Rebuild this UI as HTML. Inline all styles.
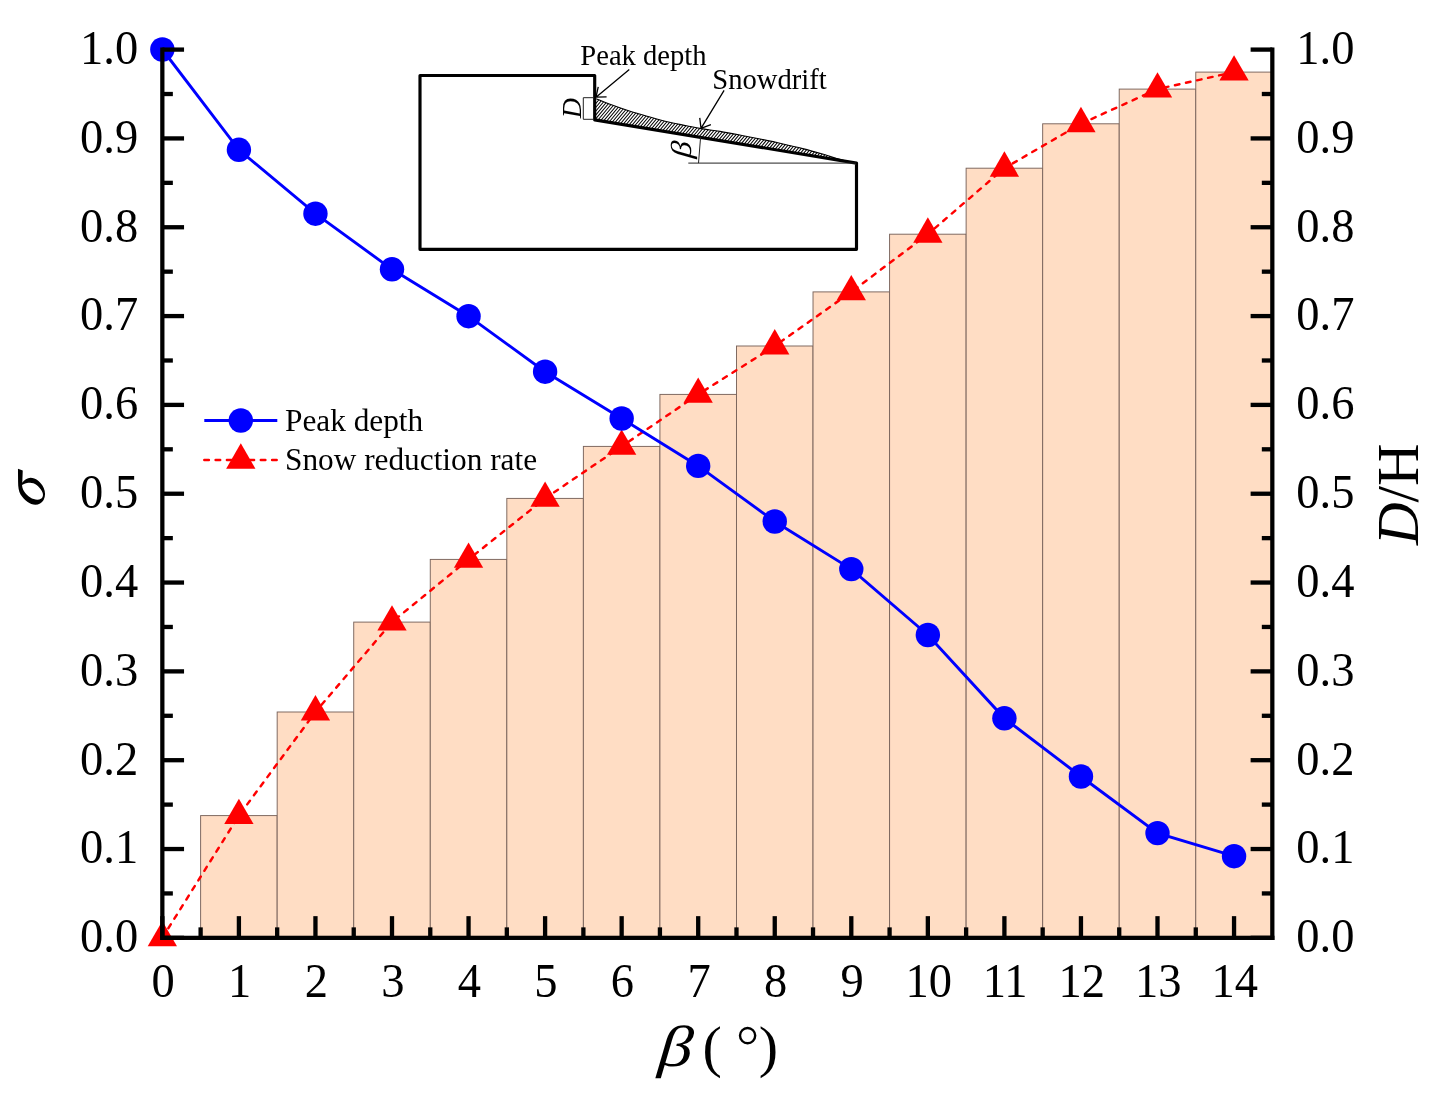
<!DOCTYPE html>
<html><head><meta charset="utf-8"><title>chart</title>
<style>html,body{margin:0;padding:0;background:#fff;}svg{display:block;will-change:transform;}text{font-family:"Liberation Serif",serif;fill:#000;}.it{font-style:italic;}</style></head><body>
<svg width="1451" height="1108" viewBox="0 0 1451 1108">
<rect x="0" y="0" width="1451" height="1108" fill="#fff"/>
<g fill="#FFDDC4" stroke="#7a645c" stroke-width="0.95">
<rect x="200.62" y="815.60" width="76.55" height="122.25"/>
<rect x="277.17" y="712.00" width="76.55" height="225.85"/>
<rect x="353.73" y="622.10" width="76.55" height="315.75"/>
<rect x="430.27" y="559.40" width="76.55" height="378.45"/>
<rect x="506.82" y="498.40" width="76.55" height="439.45"/>
<rect x="583.38" y="446.40" width="76.55" height="491.45"/>
<rect x="659.92" y="394.40" width="76.55" height="543.45"/>
<rect x="736.48" y="346.00" width="76.55" height="591.85"/>
<rect x="813.02" y="291.90" width="76.55" height="645.95"/>
<rect x="889.58" y="234.20" width="76.55" height="703.65"/>
<rect x="966.12" y="168.20" width="76.55" height="769.65"/>
<rect x="1042.67" y="123.80" width="76.55" height="814.05"/>
<rect x="1119.22" y="89.10" width="76.55" height="848.75"/>
<rect x="1195.77" y="72.10" width="76.55" height="865.75"/>
</g>
<path d="M162.35,937.85 L238.90,815.60 L315.45,712.00 L392.00,622.10 L468.55,559.40 L545.10,498.40 L621.65,446.40 L698.20,394.40 L774.75,346.00 L851.30,291.90 L927.85,234.20 L1004.40,168.20 L1080.95,123.80 L1157.50,89.10 L1234.05,72.10" fill="none" stroke="#FF0000" stroke-width="2.45" stroke-dasharray="4.6 6.7" stroke-linecap="round"/>
<g fill="#FF0000">
<polygon points="162.35,920.92 177.00,946.32 147.70,946.32"/>
<polygon points="238.90,798.67 253.55,824.07 224.25,824.07"/>
<polygon points="315.45,695.07 330.10,720.47 300.80,720.47"/>
<polygon points="392.00,605.17 406.65,630.57 377.35,630.57"/>
<polygon points="468.55,542.47 483.20,567.87 453.90,567.87"/>
<polygon points="545.10,481.47 559.75,506.87 530.45,506.87"/>
<polygon points="621.65,429.47 636.30,454.87 607.00,454.87"/>
<polygon points="698.20,377.47 712.85,402.87 683.55,402.87"/>
<polygon points="774.75,329.07 789.40,354.47 760.10,354.47"/>
<polygon points="851.30,274.97 865.95,300.37 836.65,300.37"/>
<polygon points="927.85,217.27 942.50,242.67 913.20,242.67"/>
<polygon points="1004.40,151.27 1019.05,176.67 989.75,176.67"/>
<polygon points="1080.95,106.87 1095.60,132.27 1066.30,132.27"/>
<polygon points="1157.50,72.17 1172.15,97.57 1142.85,97.57"/>
<polygon points="1234.05,55.17 1248.70,80.57 1219.40,80.57"/>
</g>
<path d="M162.35,49.50 L238.90,149.80 L315.45,213.70 L392.00,269.30 L468.55,316.20 L545.10,371.70 L621.65,418.50 L698.20,465.90 L774.75,521.50 L851.30,569.10 L927.85,635.00 L1004.40,718.30 L1080.95,776.50 L1157.50,833.10 L1234.05,856.20" fill="none" stroke="#0000FF" stroke-width="2.9"/>
<g fill="#0000FF">
<circle cx="162.35" cy="49.50" r="12.2"/>
<circle cx="238.90" cy="149.80" r="12.2"/>
<circle cx="315.45" cy="213.70" r="12.2"/>
<circle cx="392.00" cy="269.30" r="12.2"/>
<circle cx="468.55" cy="316.20" r="12.2"/>
<circle cx="545.10" cy="371.70" r="12.2"/>
<circle cx="621.65" cy="418.50" r="12.2"/>
<circle cx="698.20" cy="465.90" r="12.2"/>
<circle cx="774.75" cy="521.50" r="12.2"/>
<circle cx="851.30" cy="569.10" r="12.2"/>
<circle cx="927.85" cy="635.00" r="12.2"/>
<circle cx="1004.40" cy="718.30" r="12.2"/>
<circle cx="1080.95" cy="776.50" r="12.2"/>
<circle cx="1157.50" cy="833.10" r="12.2"/>
<circle cx="1234.05" cy="856.20" r="12.2"/>
</g>
<g fill="#000">
<rect x="160.22" y="47.48" width="4.25" height="892.50"/>
<rect x="1270.20" y="47.48" width="4.25" height="892.50"/>
<rect x="160.22" y="935.73" width="1114.22" height="4.25"/>
<rect x="162.35" y="935.70" width="21.7" height="4.3"/>
<rect x="1250.62" y="935.70" width="21.7" height="4.3"/>
<rect x="162.35" y="891.29" width="10.5" height="4.3"/>
<rect x="1261.82" y="891.29" width="10.5" height="4.3"/>
<rect x="162.35" y="846.88" width="21.7" height="4.3"/>
<rect x="1250.62" y="846.88" width="21.7" height="4.3"/>
<rect x="162.35" y="802.46" width="10.5" height="4.3"/>
<rect x="1261.82" y="802.46" width="10.5" height="4.3"/>
<rect x="162.35" y="758.05" width="21.7" height="4.3"/>
<rect x="1250.62" y="758.05" width="21.7" height="4.3"/>
<rect x="162.35" y="713.64" width="10.5" height="4.3"/>
<rect x="1261.82" y="713.64" width="10.5" height="4.3"/>
<rect x="162.35" y="669.23" width="21.7" height="4.3"/>
<rect x="1250.62" y="669.23" width="21.7" height="4.3"/>
<rect x="162.35" y="624.81" width="10.5" height="4.3"/>
<rect x="1261.82" y="624.81" width="10.5" height="4.3"/>
<rect x="162.35" y="580.40" width="21.7" height="4.3"/>
<rect x="1250.62" y="580.40" width="21.7" height="4.3"/>
<rect x="162.35" y="535.99" width="10.5" height="4.3"/>
<rect x="1261.82" y="535.99" width="10.5" height="4.3"/>
<rect x="162.35" y="491.58" width="21.7" height="4.3"/>
<rect x="1250.62" y="491.58" width="21.7" height="4.3"/>
<rect x="162.35" y="447.16" width="10.5" height="4.3"/>
<rect x="1261.82" y="447.16" width="10.5" height="4.3"/>
<rect x="162.35" y="402.75" width="21.7" height="4.3"/>
<rect x="1250.62" y="402.75" width="21.7" height="4.3"/>
<rect x="162.35" y="358.34" width="10.5" height="4.3"/>
<rect x="1261.82" y="358.34" width="10.5" height="4.3"/>
<rect x="162.35" y="313.93" width="21.7" height="4.3"/>
<rect x="1250.62" y="313.93" width="21.7" height="4.3"/>
<rect x="162.35" y="269.51" width="10.5" height="4.3"/>
<rect x="1261.82" y="269.51" width="10.5" height="4.3"/>
<rect x="162.35" y="225.10" width="21.7" height="4.3"/>
<rect x="1250.62" y="225.10" width="21.7" height="4.3"/>
<rect x="162.35" y="180.69" width="10.5" height="4.3"/>
<rect x="1261.82" y="180.69" width="10.5" height="4.3"/>
<rect x="162.35" y="136.27" width="21.7" height="4.3"/>
<rect x="1250.62" y="136.27" width="21.7" height="4.3"/>
<rect x="162.35" y="91.86" width="10.5" height="4.3"/>
<rect x="1261.82" y="91.86" width="10.5" height="4.3"/>
<rect x="162.35" y="47.45" width="21.7" height="4.3"/>
<rect x="1250.62" y="47.45" width="21.7" height="4.3"/>
<rect x="160.20" y="916.15" width="4.3" height="21.7"/>
<rect x="198.47" y="927.35" width="4.3" height="10.5"/>
<rect x="236.75" y="916.15" width="4.3" height="21.7"/>
<rect x="275.02" y="927.35" width="4.3" height="10.5"/>
<rect x="313.30" y="916.15" width="4.3" height="21.7"/>
<rect x="351.58" y="927.35" width="4.3" height="10.5"/>
<rect x="389.85" y="916.15" width="4.3" height="21.7"/>
<rect x="428.12" y="927.35" width="4.3" height="10.5"/>
<rect x="466.40" y="916.15" width="4.3" height="21.7"/>
<rect x="504.67" y="927.35" width="4.3" height="10.5"/>
<rect x="542.95" y="916.15" width="4.3" height="21.7"/>
<rect x="581.23" y="927.35" width="4.3" height="10.5"/>
<rect x="619.50" y="916.15" width="4.3" height="21.7"/>
<rect x="657.77" y="927.35" width="4.3" height="10.5"/>
<rect x="696.05" y="916.15" width="4.3" height="21.7"/>
<rect x="734.33" y="927.35" width="4.3" height="10.5"/>
<rect x="772.60" y="916.15" width="4.3" height="21.7"/>
<rect x="810.88" y="927.35" width="4.3" height="10.5"/>
<rect x="849.15" y="916.15" width="4.3" height="21.7"/>
<rect x="887.43" y="927.35" width="4.3" height="10.5"/>
<rect x="925.70" y="916.15" width="4.3" height="21.7"/>
<rect x="963.98" y="927.35" width="4.3" height="10.5"/>
<rect x="1002.25" y="916.15" width="4.3" height="21.7"/>
<rect x="1040.52" y="927.35" width="4.3" height="10.5"/>
<rect x="1078.80" y="916.15" width="4.3" height="21.7"/>
<rect x="1117.07" y="927.35" width="4.3" height="10.5"/>
<rect x="1155.35" y="916.15" width="4.3" height="21.7"/>
<rect x="1193.62" y="927.35" width="4.3" height="10.5"/>
<rect x="1231.90" y="916.15" width="4.3" height="21.7"/>
</g>
<g font-size="46.5">
<text transform="translate(138.2,952.15) scale(1,1.04)" text-anchor="end">0.0</text>
<text transform="translate(1296.3,952.15) scale(1,1.04)" text-anchor="start">0.0</text>
<text transform="translate(138.2,863.32) scale(1,1.04)" text-anchor="end">0.1</text>
<text transform="translate(1296.3,863.32) scale(1,1.04)" text-anchor="start">0.1</text>
<text transform="translate(138.2,774.50) scale(1,1.04)" text-anchor="end">0.2</text>
<text transform="translate(1296.3,774.50) scale(1,1.04)" text-anchor="start">0.2</text>
<text transform="translate(138.2,685.67) scale(1,1.04)" text-anchor="end">0.3</text>
<text transform="translate(1296.3,685.67) scale(1,1.04)" text-anchor="start">0.3</text>
<text transform="translate(138.2,596.85) scale(1,1.04)" text-anchor="end">0.4</text>
<text transform="translate(1296.3,596.85) scale(1,1.04)" text-anchor="start">0.4</text>
<text transform="translate(138.2,508.03) scale(1,1.04)" text-anchor="end">0.5</text>
<text transform="translate(1296.3,508.03) scale(1,1.04)" text-anchor="start">0.5</text>
<text transform="translate(138.2,419.20) scale(1,1.04)" text-anchor="end">0.6</text>
<text transform="translate(1296.3,419.20) scale(1,1.04)" text-anchor="start">0.6</text>
<text transform="translate(138.2,330.38) scale(1,1.04)" text-anchor="end">0.7</text>
<text transform="translate(1296.3,330.38) scale(1,1.04)" text-anchor="start">0.7</text>
<text transform="translate(138.2,241.55) scale(1,1.04)" text-anchor="end">0.8</text>
<text transform="translate(1296.3,241.55) scale(1,1.04)" text-anchor="start">0.8</text>
<text transform="translate(138.2,152.72) scale(1,1.04)" text-anchor="end">0.9</text>
<text transform="translate(1296.3,152.72) scale(1,1.04)" text-anchor="start">0.9</text>
<text transform="translate(138.2,63.90) scale(1,1.04)" text-anchor="end">1.0</text>
<text transform="translate(1296.3,63.90) scale(1,1.04)" text-anchor="start">1.0</text>
<text transform="translate(163.15,997.3) scale(1,1.04)" text-anchor="middle">0</text>
<text transform="translate(239.70,997.3) scale(1,1.04)" text-anchor="middle">1</text>
<text transform="translate(316.25,997.3) scale(1,1.04)" text-anchor="middle">2</text>
<text transform="translate(392.80,997.3) scale(1,1.04)" text-anchor="middle">3</text>
<text transform="translate(469.35,997.3) scale(1,1.04)" text-anchor="middle">4</text>
<text transform="translate(545.90,997.3) scale(1,1.04)" text-anchor="middle">5</text>
<text transform="translate(622.45,997.3) scale(1,1.04)" text-anchor="middle">6</text>
<text transform="translate(699.00,997.3) scale(1,1.04)" text-anchor="middle">7</text>
<text transform="translate(775.55,997.3) scale(1,1.04)" text-anchor="middle">8</text>
<text transform="translate(852.10,997.3) scale(1,1.04)" text-anchor="middle">9</text>
<text transform="translate(928.65,997.3) scale(1,1.04)" text-anchor="middle">10</text>
<text transform="translate(1005.20,997.3) scale(1,1.04)" text-anchor="middle">11</text>
<text transform="translate(1081.75,997.3) scale(1,1.04)" text-anchor="middle">12</text>
<text transform="translate(1158.30,997.3) scale(1,1.04)" text-anchor="middle">13</text>
<text transform="translate(1234.85,997.3) scale(1,1.04)" text-anchor="middle">14</text>
</g>
<path transform="translate(12,462) scale(0.04515)" fill="#000" fill-rule="evenodd" d="M132,152 L238,190 L228,460 C270,400 340,350 410,350 C520,350 640,440 700,570 C740,660 745,760 700,840 C660,910 590,945 520,945 C400,945 270,850 190,720 C150,650 135,560 135,450 Z M222,510 C280,475 340,462 400,462 C500,462 600,540 660,640 C700,710 695,780 640,815 C600,840 540,840 480,822 C380,790 290,700 245,610 C232,580 224,545 222,510 Z"/>
<text font-size="59" text-anchor="middle" transform="translate(1417.6,494.3) rotate(-90)"><tspan class="it">D</tspan>/H</text>
<text class="it" font-size="58" transform="translate(657.6,1066.2) skewX(-5) scale(1.17,1.0)">β</text>
<text font-size="58" x="702.6" y="1066.0">(</text>
<circle cx="747.6" cy="1035.6" r="7.6" fill="none" stroke="#000" stroke-width="2.4"/>
<text font-size="58" x="758.8" y="1066.0">)</text>
<line x1="204.3" y1="420.5" x2="277.3" y2="420.5" stroke="#0000FF" stroke-width="2.9"/>
<circle cx="240.8" cy="420.5" r="12.2" fill="#0000FF"/>
<line x1="204.3" y1="460" x2="277.3" y2="460" stroke="#FF0000" stroke-width="2.45" stroke-dasharray="4.6 6.7" stroke-linecap="round"/>
<g fill="#FF0000"><polygon points="240.80,443.37 255.45,468.77 226.15,468.77"/></g>
<text font-size="31.3" x="285" y="430.5">Peak depth</text>
<text font-size="31.3" x="285" y="470">Snow reduction rate</text>
<defs><clipPath id="snowclip"><path d="M596.30,98.70 C598.47,99.58 603.92,102.00 609.30,104.00 C614.68,106.00 622.17,108.62 628.60,110.70 C635.03,112.78 641.47,114.65 647.90,116.50 C654.33,118.35 660.77,120.27 667.20,121.80 C673.63,123.33 680.87,124.57 686.50,125.70 C692.13,126.83 695.42,127.65 701.00,128.60 C706.58,129.55 713.38,130.30 720.00,131.40 C726.62,132.50 733.80,133.88 740.70,135.20 C747.60,136.52 754.52,137.88 761.40,139.30 C768.28,140.72 775.12,142.15 782.00,143.70 C788.88,145.25 795.80,146.83 802.70,148.60 C809.60,150.37 816.50,152.32 823.40,154.30 C830.30,156.28 838.58,159.05 844.10,160.50 C849.62,161.95 854.43,162.58 856.50,163.00 L594.7,119.9 Z"/></clipPath></defs>
<path d="M540.00,170 L598.74,100 M543.20,170 L601.94,100 M546.40,170 L605.14,100 M549.60,170 L608.34,100 M552.80,170 L611.54,100 M556.00,170 L614.74,100 M559.20,170 L617.94,100 M562.40,170 L621.14,100 M565.60,170 L624.34,100 M568.80,170 L627.54,100 M572.00,170 L630.74,100 M575.20,170 L633.94,100 M578.40,170 L637.14,100 M581.60,170 L640.34,100 M584.80,170 L643.54,100 M588.00,170 L646.74,100 M591.20,170 L649.94,100 M594.40,170 L653.14,100 M597.60,170 L656.34,100 M600.80,170 L659.54,100 M604.00,170 L662.74,100 M607.20,170 L665.94,100 M610.40,170 L669.14,100 M613.60,170 L672.34,100 M616.80,170 L675.54,100 M620.00,170 L678.74,100 M623.20,170 L681.94,100 M626.40,170 L685.14,100 M629.60,170 L688.34,100 M632.80,170 L691.54,100 M636.00,170 L694.74,100 M639.20,170 L697.94,100 M642.40,170 L701.14,100 M645.60,170 L704.34,100 M648.80,170 L707.54,100 M652.00,170 L710.74,100 M655.20,170 L713.94,100 M658.40,170 L717.14,100 M661.60,170 L720.34,100 M664.80,170 L723.54,100 M668.00,170 L726.74,100 M671.20,170 L729.94,100 M674.40,170 L733.14,100 M677.60,170 L736.34,100 M680.80,170 L739.54,100 M684.00,170 L742.74,100 M687.20,170 L745.94,100 M690.40,170 L749.14,100 M693.60,170 L752.34,100 M696.80,170 L755.54,100 M700.00,170 L758.74,100 M703.20,170 L761.94,100 M706.40,170 L765.14,100 M709.60,170 L768.34,100 M712.80,170 L771.54,100 M716.00,170 L774.74,100 M719.20,170 L777.94,100 M722.40,170 L781.14,100 M725.60,170 L784.34,100 M728.80,170 L787.54,100 M732.00,170 L790.74,100 M735.20,170 L793.94,100 M738.40,170 L797.14,100 M741.60,170 L800.34,100 M744.80,170 L803.54,100 M748.00,170 L806.74,100 M751.20,170 L809.94,100 M754.40,170 L813.14,100 M757.60,170 L816.34,100 M760.80,170 L819.54,100 M764.00,170 L822.74,100 M767.20,170 L825.94,100 M770.40,170 L829.14,100 M773.60,170 L832.34,100 M776.80,170 L835.54,100 M780.00,170 L838.74,100 M783.20,170 L841.94,100 M786.40,170 L845.14,100 M789.60,170 L848.34,100 M792.80,170 L851.54,100 M796.00,170 L854.74,100 M799.20,170 L857.94,100 M802.40,170 L861.14,100 M805.60,170 L864.34,100 M808.80,170 L867.54,100 M812.00,170 L870.74,100 M815.20,170 L873.94,100 M818.40,170 L877.14,100 M821.60,170 L880.34,100 M824.80,170 L883.54,100 M828.00,170 L886.74,100 M831.20,170 L889.94,100 M834.40,170 L893.14,100 M837.60,170 L896.34,100 M840.80,170 L899.54,100 M844.00,170 L902.74,100 M847.20,170 L905.94,100 M850.40,170 L909.14,100 M853.60,170 L912.34,100 M856.80,170 L915.54,100 M860.00,170 L918.74,100 M863.20,170 L921.94,100 M866.40,170 L925.14,100 M869.60,170 L928.34,100" clip-path="url(#snowclip)" stroke="#000" stroke-width="1.05" fill="none"/>
<path d="M596.30,98.70 C598.47,99.58 603.92,102.00 609.30,104.00 C614.68,106.00 622.17,108.62 628.60,110.70 C635.03,112.78 641.47,114.65 647.90,116.50 C654.33,118.35 660.77,120.27 667.20,121.80 C673.63,123.33 680.87,124.57 686.50,125.70 C692.13,126.83 695.42,127.65 701.00,128.60 C706.58,129.55 713.38,130.30 720.00,131.40 C726.62,132.50 733.80,133.88 740.70,135.20 C747.60,136.52 754.52,137.88 761.40,139.30 C768.28,140.72 775.12,142.15 782.00,143.70 C788.88,145.25 795.80,146.83 802.70,148.60 C809.60,150.37 816.50,152.32 823.40,154.30 C830.30,156.28 838.58,159.05 844.10,160.50 C849.62,161.95 854.43,162.58 856.50,163.00" fill="none" stroke="#000" stroke-width="1.1"/>
<path d="M594.7,75.5 L420.0,75.5 L420.0,249.3 L856.5,249.3 L856.5,163.1 L594.7,119.9 Z" fill="none" stroke="#000" stroke-width="3.15" stroke-linejoin="round"/>
<g stroke="#222" stroke-width="1" fill="none">
<path d="M594,97.7 L583.3,97.7 L583.3,119.3 L594,119.3"/>
<path d="M688.3,163.1 L856,163.1"/>
<path d="M700.6,137 L698.5,163.1"/>
</g>
<path d="M629.30,69.40 L596.00,97.20 M598.23,86.84 L596.00,97.20 M606.59,96.86 L596.00,97.20" stroke="#000" stroke-width="1.3" fill="none"/>
<path d="M724.10,90.30 L701.00,128.40 M699.75,117.87 L701.00,128.40 M710.91,124.64 L701.00,128.40" stroke="#000" stroke-width="1.3" fill="none"/>
<text font-size="28.6" x="580.3" y="64.5">Peak depth</text>
<text font-size="28.6" x="712.3" y="88.7">Snowdrift</text>
<text class="it" font-size="28" text-anchor="middle" transform="translate(581.2,108.2) rotate(-90)">D</text>
<text class="it" font-size="28" text-anchor="middle" transform="translate(690.8,150.2) rotate(-90) skewX(-5) scale(1.2,1.03)">β</text>
</svg></body></html>
